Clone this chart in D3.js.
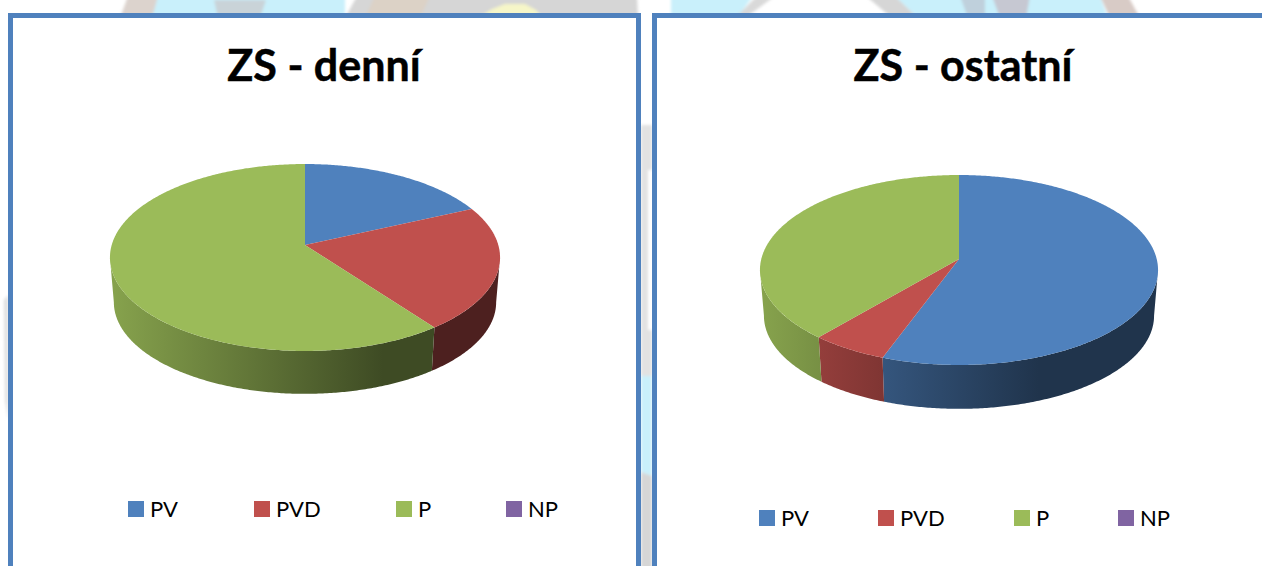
<!DOCTYPE html>
<html>
<head>
<meta charset="utf-8">
<script src="https://cdn.jsdelivr.net/npm/d3@7"></script>
<style>
html, body { margin: 0; padding: 0; background: #fff; overflow: hidden; }
text { font-family: Lato, "Open Sans", sans-serif; fill: #000; }
</style>
</head>
<body>
<div id="chart"></div>
<script>
// values, in percent
let categories = ['PV', 'PVD', 'P', 'NP']
let colors = ['#4f81bd', '#c0504d', '#9bbb59', '#8064a2']
let dayValues = [18.2, 21.6, 60.2, 0]
let otherValues = [55.6, 5.6, 38.8, 0]

let width = 1262
let height = 566
let shadeStops = [[0, 0.87], [0.7, 0.4], [1, 0.4]]

let svg = d3
	.select('#chart')
	.append('svg')
	.attr('width', width)
	.attr('height', height)
	.style('display', 'block')

let defs = svg.append('defs')
defs.append('filter')
	.attr('id', 'blur')
	.attr('x', '-20%').attr('y', '-20%').attr('width', '140%').attr('height', '140%')
	.append('feGaussianBlur')
	.attr('stdDeviation', 1.6)

// washed out picture that shows around the panels
let backdrop = [
	['#dcd3cd', [[128, -4], [160, -4], [152, 18], [120, 18]]],
	['#c9f0fb', [[158, -4], [345, -4], [345, 18], [152, 18]]],
	['#c9d3d8', [[214, 0], [266, 0], [260, 18], [218, 18]]],
	['#d6d6d6', [[357, -4], [637, -4], [638, 18], [345, 18]]],
	['#dcd2c6', [[375, -4], [430, -4], [420, 18], [365, 18]]],
	['#f6f6c8', [[478, 18], [492, 9], [505, 4], [525, 4], [536, 10], [543, 18]]],
	['#c9f0fb', [[671, -4], [753, -4], [737, 18], [671, 18]]],
	['#d9d9d9', [[757, -4], [775, -4], [745, 18], [735, 18]]],
	['#d6d6d6', [[866, -4], [895, -4], [918, 18], [892, 18]]],
	['#c9f0fb', [[895, -4], [1100, -4], [1108, 18], [918, 18]]],
	['#bfd0dc', [[960, -4], [985, -4], [985, 18], [968, 18]]],
	['#c6c8d2', [[992, -4], [1030, -4], [1026, 18], [1000, 18]]],
	['#d8cbc6', [[1100, -4], [1128, -4], [1140, 18], [1110, 18]]],
	['#dedede', [[4, 300], [8, 295], [8, 420], [5, 400]]],
	['#e2e2e2', [[641, 125], [652, 125], [652, 170], [648, 170], [648, 330], [652, 330], [652, 376], [641, 376]]],
	['#c9f0fb', [[641, 376], [652, 376], [652, 476], [641, 472]]],
	['#d6d6d6', [[641, 472], [652, 476], [652, 570], [641, 570]]],
]

svg.append('g')
	.attr('filter', 'url(#blur)')
	.selectAll('polygon')
	.data(backdrop)
	.join('polygon')
	.attr('fill', d => d[0])
	.attr('points', d => d[1].join(' '))

// panels: the right one runs off the window
let panels = [
	{ x: 10.5, y: 15.5, w: 628, h: 570 },
	{ x: 654.5, y: 15.5, w: 640, h: 570 },
]
svg.selectAll('rect.panel')
	.data(panels)
	.join('rect')
	.attr('class', 'panel')
	.attr('x', d => d.x)
	.attr('y', d => d.y)
	.attr('width', d => d.w)
	.attr('height', d => d.h)
	.attr('fill', '#fff')
	.attr('stroke', '#4f81bd')
	.attr('stroke-width', 5)

let color = d3.scaleOrdinal().domain(categories).range(colors)

let pie = d3.pie().sort(null).startAngle(0).endAngle(2 * Math.PI)

// perspective view of a flat disc, t runs clockwise from the top
let project = (p, t, lift, shrink) => {
	let X = Math.sin(t)
	let Y = -Math.cos(t)
	let w = 1 - p.k * Y
	return [
		p.cx + (p.b * shrink * X) / w,
		p.cy + lift + (p.a * shrink * Y) / w,
	]
}

let rim = (p, a0, a1, lift, shrink) => {
	let n = Math.max(2, Math.ceil((a1 - a0) / 0.01))
	return d3.range(n + 1).map(i => project(p, a0 + ((a1 - a0) * i) / n, lift, shrink))
}

let line = d3.line()

let drawPie = (id, values, p) => {
	let arcs = pie(values).filter(d => d.value > 0)
	let g = svg.append('g').attr('id', id)

	// only the front of the wall shows, between the two widest points of the disc
	let frontStart = Math.acos(-p.k)
	let frontEnd = 2 * Math.PI - frontStart

	arcs.forEach((d, i) => {
		let a0 = Math.max(d.startAngle, frontStart)
		let a1 = Math.min(d.endAngle, frontEnd)
		if (a1 <= a0) return
		let c = color(categories[d.index])
		let gradId = `${id}-side-${i}`
		let grad = defs.append('linearGradient')
			.attr('id', gradId)
			.attr('gradientUnits', 'userSpaceOnUse')
			.attr('x1', p.cx - p.rx).attr('x2', p.cx + p.rx)
			.attr('y1', 0).attr('y2', 0)
		shadeStops.forEach(s => {
			let rgb = d3.rgb(c)
			grad.append('stop')
				.attr('offset', s[0])
				.attr('stop-color', d3.rgb(rgb.r * s[1], rgb.g * s[1], rgb.b * s[1]).formatHex())
		})
		let top = rim(p, a0, a1, 0, 1)
		let bottom = rim(p, a0, a1, p.depth, 0.98).reverse()
		g.append('path')
			.attr('d', line(top.concat(bottom)) + 'Z')
			.attr('fill', `url(#${gradId})`)
	})

	arcs.forEach(d => {
		let pts = [[p.cx, p.cy]].concat(rim(p, d.startAngle, d.endAngle, 0, 1))
		g.append('path')
			.attr('d', line(pts) + 'Z')
			.attr('fill', color(categories[d.index]))
	})
}

drawPie('day', dayValues, { cx: 305, cy: 245, a: 91.8, b: 193.3, k: 0.1337, rx: 195, depth: 45 })
drawPie('other', otherValues, { cx: 959, cy: 259, a: 93.7, b: 197.7, k: 0.1158, rx: 199, depth: 46 })

let titles = [
	{ text: 'ZS - denní', x: 324, y: 81 },
	{ text: 'ZS - ostatní', x: 963, y: 81 },
]
svg.selectAll('text.title')
	.data(titles)
	.join('text')
	.attr('class', 'title')
	.attr('x', d => d.x)
	.attr('y', d => d.y)
	.attr('text-anchor', 'middle')
	.attr('font-size', 43)
	.attr('font-weight', 700)
	.attr('stroke', '#000')
	.attr('stroke-width', 0.5)
	.text(d => d.text)

let legends = [
	{ y: 501, xs: [128, 254, 396, 506] },
	{ y: 510, xs: [759, 878, 1014, 1118] },
]
legends.forEach(l => {
	categories.forEach((c, i) => {
		svg.append('rect')
			.attr('x', l.xs[i])
			.attr('y', l.y)
			.attr('width', 16)
			.attr('height', 16)
			.attr('fill', color(c))
		svg.append('text')
			.attr('x', l.xs[i] + 22)
			.attr('y', l.y + 16)
			.attr('font-size', 22)
			.text(c)
	})
})
</script>
</body>
</html>
